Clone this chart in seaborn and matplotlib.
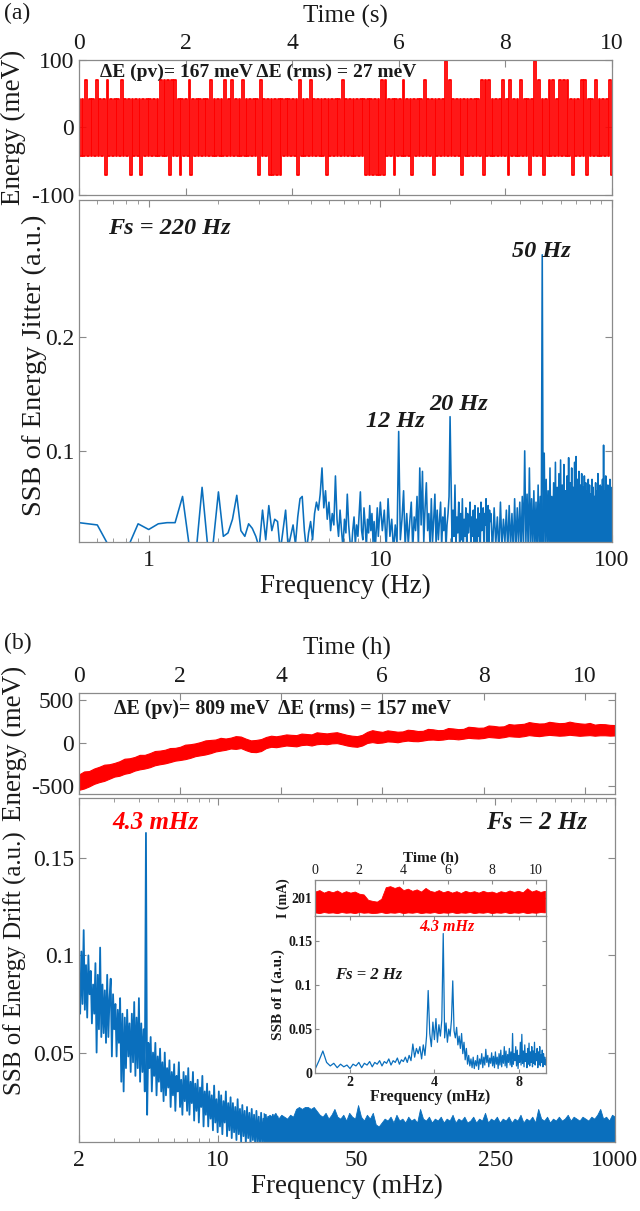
import numpy as np
import matplotlib
matplotlib.use('Agg')
import matplotlib.pyplot as plt
import matplotlib.ticker as mticker
import seaborn as sns

# ---------------- panel (a): 10 s record at Fs = 220 Hz ----------------
time_a_s = np.linspace(0, 10, 300)
energy_a_mev = [
    42, -42, 42, -42, 70, -42, 42, -42, 42, -42, 70, -42, 42, -42, 42, -70, 70, -42, 42, -42,
    42, -42, 42, -42, 70, -42, 42, -42, 42, -70, 42, -42, 42, -42, 42, -70, 42, -42, 42, -42,
    42, -42, 42, -42, 42, -42, 70, -42, 70, -42, 70, -70, 70, -42, 70, -42, 42, -70, 42, -42,
    42, -42, 70, -70, 42, -42, 42, -42, 42, -42, 42, -42, 42, -42, 70, -42, 42, -42, 42, -42,
    42, -42, 70, -42, 42, -42, 70, -42, 42, -42, 42, -42, 70, -42, 42, -42, 42, -42, 42, -42,
    42, -70, 70, -42, 42, -42, 42, -70, 42, -70, 42, -70, 42, -70, 42, -42, 42, -42, 42, -42,
    42, -42, 42, -70, 70, -42, 42, -42, 42, -42, 70, -42, 42, -42, 42, -42, 42, -42, 42, -70,
    42, -42, 42, -42, 42, -42, 42, -42, 70, -42, 42, -42, 42, -42, 42, -42, 42, -42, 42, -42,
    42, -70, 42, -70, 42, -70, 42, -70, 42, -70, 70, -70, 70, -42, 42, -42, 42, -70, 42, -42,
    42, -42, 70, -42, 42, -42, 42, -70, 42, -42, 42, -42, 42, -42, 70, -42, 42, -42, 42, -70,
    42, -42, 42, -42, 42, -42, 98, -42, 70, -42, 42, -42, 42, -42, 42, -70, 42, -42, 42, -42,
    42, -42, 42, -42, 42, -42, 70, -70, 70, -42, 70, -42, 42, -42, 42, -42, 42, -42, 70, -42,
    42, -70, 70, -42, 42, -42, 42, -42, 70, -42, 42, -42, 42, -70, 42, -42, 98, -42, 70, -42,
    42, -70, 42, -42, 70, -42, 70, -42, 42, -42, 70, -42, 70, -42, 70, -42, 42, -70, 42, -42,
    42, -42, 70, -42, 70, -70, 42, -42, 42, -42, 70, -42, 42, -42, 42, -42, 42, -42, 70, -70,
]

# spectrum bins (Hz) and single-side-band amplitude in 1e-3 a.u.
freq_a_hz = np.concatenate([np.arange(0.5, 9.95, 0.1),
                            np.arange(10.0, 29.9, 0.2),
                            np.arange(30.0, 100.1, 0.5)])
ssb_a_low = [
    37, 35, 10, 12, 36, 31, 36, 37, 37, 60, 15, 10, 68, 15, 20, 64, 25, 28, 40, 61, 30, 25, 36, 32, 25,
    15, 48, 22, 52, 30, 40, 38, 12, 30, 48, 15, 25, 35, 18, 42, 58, 60, 30, 12, 28,
    38, 22, 45, 55, 48, 62, 85, 50, 65, 40, 55, 30, 45, 35, 78, 40, 25, 48, 30, 15,
    40, 28, 62, 35, 20, 12, 30, 42, 18, 35, 25, 45, 64, 30, 22, 50, 35, 15, 40, 28,
    52, 30, 45, 20, 38, 12, 30, 50, 25, 40,
]
ssb_a_mid = [
    55, 30, 48, 15, 58, 25, 40, 12, 35, 18,
    117, 22, 40, 65, 16, 45, 18, 38, 55, 14,
    42, 30, 60, 16, 85, 35, 82, 20, 50, 72,
    30, 45, 15, 58, 20, 40, 62, 18, 48, 22,
    38, 55, 16, 42, 30, 50, 14, 35, 45, 60,
    130, 75, 18, 48, 25, 70, 15, 42, 28, 55,
    16, 45, 22, 58, 14, 40, 25, 50, 16, 45,
    28, 38, 55, 15, 42, 25, 48, 14, 52, 20,
    40, 16, 50, 25, 45, 14, 55, 30, 42, 50,
    15, 45, 35, 58, 14, 40, 52, 18, 48, 38,
]
ssb_a_high = [
    45, 12, 50, 18, 42, 10, 55, 15, 40, 20, 48, 12, 52, 16, 45, 10, 58, 14, 50, 18,
    55, 12, 60, 15, 100, 20, 62, 10, 85, 18, 58, 12, 65, 15, 55, 10, 70, 14, 60, 18,
    272, 15, 98, 12, 75, 18, 65, 10, 85, 15, 60, 12, 72, 16, 90, 10, 68, 15, 80, 12,
    92, 14, 70, 10, 88, 16, 65, 12, 78, 15, 94, 10, 72, 18, 85, 12, 68, 15, 90, 10,
    95, 14, 75, 12, 82, 16, 70, 10, 80, 15, 68, 12, 78, 14, 72, 10, 65, 16, 75, 12,
    70, 14, 62, 10, 75, 15, 68, 12, 60, 16, 72, 10, 65, 14, 80, 12, 62, 15, 70, 10,
    68, 14, 75, 10, 105, 15, 65, 12, 78, 16, 62, 10, 70, 14, 66, 12, 75, 15, 68, 10,
    65,
]
ssb_a = np.array(ssb_a_low + ssb_a_mid + ssb_a_high) / 1000

# ---------------- panel (b): 10.6 h record at Fs = 2 Hz ----------------
time_b_h = np.arange(0, 10.65, 0.1)
energy_b_upper = [
    -370, -335, -330, -300, -280, -255, -250, -235, -215, -185,
    -180, -165, -140, -140, -120, -95, -90, -80, -60, -58,
    -45, -20, -15, -5, 10, 30, 35, 40, 60, 52,
    62, 80, 75, 50, 30, 35, 45, 70, 85, 78,
    88, 100, 95, 92, 110, 105, 100, 125, 118, 112,
    120, 126, 110, 95, 85, 80, 95, 130, 150, 138,
    130, 148, 140, 132, 135, 155, 150, 140, 142, 165,
    160, 150, 152, 175, 170, 162, 165, 190, 185, 178,
    180, 205, 200, 192, 195, 222, 215, 220, 225, 245,
    235, 228, 230, 248, 240, 232, 235, 250, 238, 230,
    225, 235, 215, 222, 220, 212, 210,
]
energy_b_lower = [
    -550, -535, -510, -480, -460, -445, -420, -395, -385, -362,
    -350, -325, -310, -300, -285, -262, -250, -240, -225, -208,
    -200, -190, -175, -155, -145, -135, -120, -100, -90, -80,
    -65, -70, -60, -85, -105, -108, -95, -60, -45, -50,
    -40, -30, -35, -40, -25, -20, -30, -15, -10, -15,
    -5, -2, -15, -30, -40, -45, -30, 0, 10, 0,
    5, 18, 15, 8, 20, 28, 22, 20, 28, 38,
    40, 35, 40, 50, 48, 42, 50, 60, 55, 52,
    58, 70, 65, 60, 68, 80, 75, 72, 80, 92,
    85, 80, 88, 95, 90, 85, 88, 96, 90, 84,
    88, 92, 85, 90, 90, 86, 88,
]

freq_b_line = np.geomspace(2, 20, 170)
ssb_b_line = [
    88, 70, 102, 75, 113, 72, 95, 68, 100, 80,
    92, 65, 85, 70, 96, 50, 90, 62, 104, 58,
    85, 60, 82, 55, 90, 58, 78, 88, 48, 80,
    62, 75, 48, 72, 55, 78, 35, 70, 30, 68,
    42, 72, 48, 65, 40, 70, 45, 76, 38, 68,
    42, 78, 35, 65, 40, 62, 30, 163, 18, 55,
    42, 58, 30, 50, 38, 55, 28, 48, 35, 52,
    30, 45, 25, 50, 28, 42, 32, 46, 22, 40,
    28, 44, 20, 38, 30, 45, 22, 36, 18, 40,
    25, 38, 20, 42, 18, 35, 24, 40, 15, 34,
    20, 36, 14, 32, 22, 38, 12, 30, 18, 34,
    12, 30, 16, 28, 10, 33, 14, 26, 9, 30,
    12, 28, 8, 25, 14, 30, 7, 24, 10, 27,
    6, 24, 9, 22, 5, 26, 8, 21, 4, 23,
    7, 20, 3, 22, 6, 19, 2, 21, 5, 18,
    1, 20, 4, 17, 0, 19, 3, 16, 0, 18,
    2, 17, 0, 15, 1, 18, 0, 16, 0, 17,
]
freq_b_band = np.geomspace(17, 1000, 120)
ssb_b_band_top = [
    19, 16, 18, 17, 19, 16, 18, 17, 16, 18,
    17, 21, 22, 21, 22, 22, 21, 22, 20, 18,
    17, 19, 16, 18, 21, 17, 16, 18, 15, 19,
    17, 16, 23, 17, 15, 18, 16, 19, 13, 12,
    14, 16, 15, 17, 14, 18, 15, 16, 14, 17,
    15, 16, 14, 21, 16, 15, 17, 14, 16, 15,
    17, 14, 16, 15, 18, 14, 16, 15, 17, 14,
    15, 17, 14, 16, 15, 19, 14, 16, 15, 17,
    14, 16, 15, 17, 14, 16, 15, 18, 14, 16,
    15, 17, 14, 21, 16, 15, 17, 14, 16, 15,
    17, 15, 16, 18, 15, 17, 16, 15, 17, 16,
    15, 17, 16, 18, 21, 16, 17, 15, 18, 17,
]

# inset: pump current and its spectrum
time_in_h = np.arange(0, 10.41, 0.2)
current_upper = [
    201.18, 201.22, 201.15, 201.20, 201.16, 201.21, 201.14, 201.19, 201.15, 201.18,
    201.12, 201.10, 200.95, 200.92, 200.90, 200.98, 201.30, 201.33, 201.28, 201.32,
    201.22, 201.26, 201.20, 201.24, 201.18, 201.28, 201.20, 201.17, 201.22, 201.16,
    201.20, 201.15, 201.19, 201.14, 201.20, 201.16, 201.19, 201.15, 201.20, 201.16,
    201.18, 201.14, 201.19, 201.16, 201.21, 201.17, 201.20, 201.16, 201.27, 201.18,
    201.22, 201.17, 201.20,
]
current_lower = [
    200.60, 200.58, 200.61, 200.59, 200.60, 200.58, 200.61, 200.59, 200.60, 200.58,
    200.61, 200.59, 200.60, 200.58, 200.59, 200.61, 200.58, 200.60, 200.59, 200.61,
    200.58, 200.60, 200.59, 200.61, 200.58, 200.60, 200.59, 200.61, 200.58, 200.60,
    200.59, 200.61, 200.58, 200.60, 200.59, 200.61, 200.58, 200.60, 200.59, 200.61,
    200.58, 200.60, 200.59, 200.61, 200.58, 200.60, 200.59, 200.61, 200.58, 200.60,
    200.59, 200.61, 200.60,
]
freq_in_mhz = np.arange(1.5, 10.01, 0.05)
ssb_in = [
    4, 14, 25, 12, 8, 11, 6, 10, 7, 9,
    5, 10, 8, 12, 6, 11, 9, 13, 7, 12,
    10, 14, 8, 13, 11, 16, 9, 14, 12, 17,
    10, 15, 13, 18, 12, 20, 14, 33, 18, 28,
    22, 30, 16, 32, 20, 42, 94, 45, 30, 58,
    38, 62, 35, 55, 42, 60, 159, 40, 57, 35,
    50, 42, 60, 105, 48, 40, 52, 32, 42, 28,
    45, 22, 35, 15, 28, 10, 20, 8, 16, 6,
    18, 5, 14, 8, 20, 4, 16, 10, 22, 6,
    18, 9, 27, 12, 20, 7, 17, 11, 23, 8,
    19, 6, 24, 10, 18, 5, 22, 9, 26, 7,
    20, 11, 30, 8, 25, 6, 21, 12, 28, 9,
    24, 7, 45, 10, 22, 14, 30, 8, 26, 5,
    20, 12, 35, 9, 44, 11, 25, 7, 32, 13,
    22, 6, 28, 10, 34, 8, 24, 12, 30, 7,
    25, 11, 35, 9, 22, 14, 28, 6, 24, 10,
    30, 8, 21, 12, 26, 7, 22, 10, 18, 9,
    15,
]

RED = '#ff0000'
BLUE = '#0a6fbd'
FRAME = '#8a8a8a'
TEXT = '#1a1a1a'

sns.set_style('ticks')
plt.rcParams['font.family'] = ['Liberation Serif', 'DejaVu Serif']
plt.rcParams['axes.unicode_minus'] = False
plt.rcParams['text.color'] = TEXT
plt.rcParams['axes.labelcolor'] = TEXT


def box(ax, size=17, bold=False):
    for s in ax.spines.values():
        s.set_color(FRAME)
        s.set_linewidth(0.9)
    ax.tick_params(which='both', direction='in', top=True, right=True,
                   color=FRAME, labelcolor=TEXT, labelsize=size)
    ax.tick_params(which='major', length=5)
    ax.tick_params(which='minor', length=3)
    if bold:
        for lab in ax.get_xticklabels() + ax.get_yticklabels():
            lab.set_fontweight('bold')


def top_time_axis(ax):
    ax.tick_params(axis='x', which='both', labeltop=True, labelbottom=False, pad=4)
    ax.xaxis.set_label_position('top')


fmt = mticker.FuncFormatter(lambda v, p: f'{v:g}')
logminor = mticker.LogLocator(base=10, subs=np.arange(2, 10))
anno = dict(fontweight='bold', style='italic', va='center')

fig = plt.figure(figsize=(6.4, 12.11), dpi=100)

# (a) time trace
ax1 = fig.add_axes([0.1234, 0.8390, 0.8328, 0.1115])
sns.lineplot(x=time_a_s, y=energy_a_mev, ax=ax1, color=RED, linewidth=1.3,
             estimator=None, drawstyle='steps-mid')
ax1.set_xlim(0, 10)
ax1.set_ylim(-100, 100)
ax1.set_xticks([0, 2, 4, 6, 8, 10])
ax1.set_yticks([-100, 0, 100])
box(ax1)
top_time_axis(ax1)
ax1.set_xlabel('Time (s)', fontsize=18, labelpad=8)
ax1.set_ylabel('Energy (meV)', fontsize=19.5)
ax1.yaxis.set_label_coords(-0.10, 0.5)
ax1.text(0.39, 81, 'ΔE (pv)= 167 meV ΔE (rms) = 27 meV', fontsize=14,
         fontweight='bold', va='center')

# (a) spectrum
ax2 = fig.add_axes([0.1234, 0.5524, 0.8328, 0.2824])
sns.lineplot(x=freq_a_hz, y=ssb_a, ax=ax2, color=BLUE, linewidth=1.15, estimator=None)
ax2.set_xscale('log')
ax2.set_xlim(0.5, 100)
ax2.set_ylim(0.02, 0.32)
ax2.xaxis.set_major_locator(mticker.FixedLocator([1, 10, 100]))
ax2.xaxis.set_major_formatter(fmt)
ax2.xaxis.set_minor_locator(logminor)
ax2.xaxis.set_minor_formatter(mticker.NullFormatter())
ax2.set_yticks([0.1, 0.2])
ax2.yaxis.set_major_formatter(fmt)
box(ax2)
ax2.tick_params(axis='x', pad=6)
ax2.set_xlabel('Frequency (Hz)', fontsize=19.5, labelpad=2)
ax2.set_ylabel('SSB of Energy Jitter (a.u.)', fontsize=20.5)
ax2.yaxis.set_label_coords(-0.06, 0.517)
ax2.text(0.67, 0.295, 'Fs = 220 Hz', fontsize=17.5, **anno)
ax2.text(49.7, 0.2746, '50 Hz', fontsize=17.5, ha='center', **anno)
ax2.text(21.8, 0.141, '20 Hz', fontsize=17.5, ha='center', **anno)
ax2.text(11.6, 0.1254, '12 Hz', fontsize=17.5, ha='center', **anno)

# (b) time trace
ax3 = fig.add_axes([0.1234, 0.3443, 0.8375, 0.0837])
ax3.fill_between(time_b_h, energy_b_lower, energy_b_upper, color=RED, linewidth=0.8, edgecolor=RED)
ax3.set_xlim(0, 10.6)
ax3.set_ylim(-600, 590)
ax3.set_xticks([0, 2, 4, 6, 8, 10])
ax3.set_yticks([-500, 0, 500])
box(ax3)
top_time_axis(ax3)
ax3.set_xlabel('Time (h)', fontsize=18, labelpad=8)
ax3.set_ylabel('Energy (meV)', fontsize=19.5)
ax3.yaxis.set_label_coords(-0.097, 0.5)
ax3.text(0.69, 404, 'ΔE (pv)= 809 meV  ΔE (rms) = 157 meV', fontsize=14.3,
         fontweight='bold', va='center')

# (b) spectrum
ax4 = fig.add_axes([0.1234, 0.0570, 0.8375, 0.2841])
ax4.fill_between(freq_b_band, 0, np.array(ssb_b_band_top) / 1000, color=BLUE, linewidth=0.6, edgecolor=BLUE)
sns.lineplot(x=freq_b_line, y=np.array(ssb_b_line) / 1000, ax=ax4, color=BLUE, linewidth=1.3, estimator=None)
ax4.set_xscale('log')
ax4.set_xlim(2, 1000)
ax4.set_ylim(0.004, 0.181)
ax4.xaxis.set_major_locator(mticker.FixedLocator([2, 10, 50, 250, 1000]))
ax4.xaxis.set_major_formatter(fmt)
ax4.xaxis.set_minor_locator(logminor)
ax4.xaxis.set_minor_formatter(mticker.NullFormatter())
ax4.set_yticks([0.05, 0.1, 0.15])
ax4.yaxis.set_major_formatter(fmt)
box(ax4)
ax4.tick_params(axis='x', pad=6)
ax4.set_xlabel('Frequency (mHz)', fontsize=19.5, labelpad=2)
ax4.set_ylabel('SSB of Energy Drift (a.u.)', fontsize=18)
ax4.yaxis.set_label_coords(-0.097, 0.52)
ax4.text(4.85, 0.1686, '4.3 mHz', fontsize=18, color=RED, ha='center', **anno)
ax4.text(404, 0.1686, 'Fs = 2 Hz', fontsize=18, ha='center', **anno)

# inset: current trace
ax5 = fig.add_axes([0.4922, 0.2436, 0.3609, 0.0297])
ax5.fill_between(time_in_h, current_lower, current_upper, color=RED, linewidth=0.6, edgecolor=RED)
ax5.set_xlim(0, 10.45)
ax5.set_ylim(200.5, 201.5)
ax5.set_xticks([0, 2, 4, 6, 8, 10])
ax5.set_yticks([201])
box(ax5, size=10, bold=True)
top_time_axis(ax5)
ax5.tick_params(which='major', length=3, pad=2)
ax5.set_xlabel('Time (h)', fontsize=11, fontweight='bold', labelpad=2)
ax5.set_ylabel('I (mA)', fontsize=10, fontweight='bold')
ax5.yaxis.set_label_coords(-0.11, 0.5)

# inset: current spectrum
ax6 = fig.add_axes([0.4922, 0.1140, 0.3609, 0.1296])
sns.lineplot(x=freq_in_mhz, y=np.array(ssb_in) / 1000, ax=ax6, color=BLUE, linewidth=0.9, estimator=None)
ax6.set_xscale('log', base=2)
ax6.set_xlim(1.5, 10)
ax6.set_ylim(0, 0.179)
ax6.xaxis.set_major_locator(mticker.FixedLocator([2, 4, 8]))
ax6.xaxis.set_major_formatter(fmt)
ax6.xaxis.set_minor_locator(mticker.NullLocator())
ax6.set_yticks([0, 0.05, 0.1, 0.15])
ax6.yaxis.set_major_formatter(fmt)
box(ax6, size=10, bold=True)
ax6.tick_params(which='major', length=3, pad=2)
ax6.set_xlabel('Frequency (mHz)', fontsize=11.5, fontweight='bold', labelpad=0)
ax6.set_ylabel('SSB of I (a.u.)', fontsize=11, fontweight='bold')
ax6.yaxis.set_label_coords(-0.13, 0.5)
ax6.text(4.43, 0.166, '4.3 mHz', fontsize=11.5, color=RED, ha='center', **anno)
ax6.text(2.33, 0.1117, 'Fs = 2 Hz', fontsize=12, ha='center', **anno)

fig.text(0.006, 1 - 13 / 1211, '(a)', fontsize=17, va='center')
fig.text(0.006, 1 - 643 / 1211, '(b)', fontsize=17, va='center')

fig.savefig('out.png', dpi=100)
